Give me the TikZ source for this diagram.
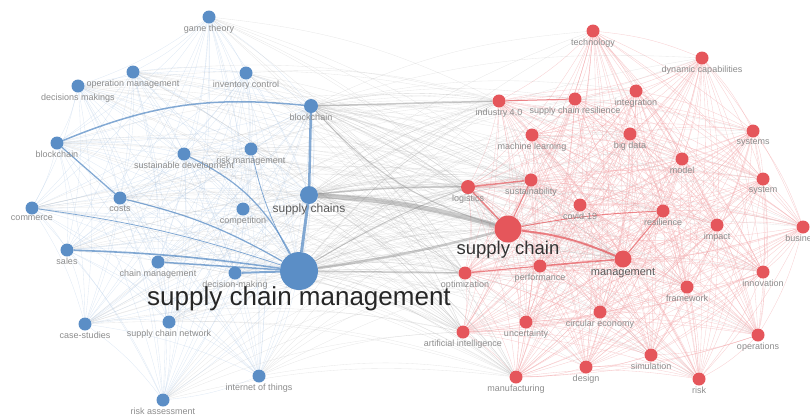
\documentclass[tikz,border=0pt]{standalone}
\usepackage{fontspec}
\setmainfont{Liberation Sans}
\usetikzlibrary{backgrounds}

\definecolor{vblue}{HTML}{5B8EC6}
\definecolor{vred}{HTML}{E5565B}
\definecolor{lblue}{HTML}{B9CFE8}
\definecolor{lred}{HTML}{F2A9AC}
\definecolor{lgray}{HTML}{B5B5B5}
\definecolor{labgray}{HTML}{8C8C8C}

% node lists of the two clusters
\def\bluelist{gt,opm,dms,ic,bct,bcl,sd,rm,cst,cmp,scs,com,sal,chm,dmk,scm,cs,scn,iot,ra}
\def\redlist{tec,dyn,ind,scr,itg,ml,bd,sys,mdl,log,sus,syst,cov,res,imp,bus,sc,mgt,opt,prf,inn,frw,ce,unc,ai,ops,sim,des,mfg,rsk}

\begin{document}
\begin{tikzpicture}[x=1pt, y=-1pt,
    bnode/.style={circle, fill=vblue, minimum size=13pt, inner sep=0pt},
    rnode/.style={circle, fill=vred, minimum size=13pt, inner sep=0pt},
    every label/.style={font=\fontsize{9}{9}\selectfont, text=labgray, inner sep=1pt},
    bmesh/.style={lblue, line width=0.35pt, opacity=0.45},
    rmesh/.style={lred, line width=0.35pt, opacity=0.55},
    gmesh/.style={lgray, line width=0.35pt, opacity=0.3},
    bstrong/.style={vblue, opacity=0.75},
    rstrong/.style={vred, opacity=0.7},
    gstrong/.style={gray, opacity=0.4}
  ]
  \useasboundingbox (0,0) rectangle (810,416);

  % blue cluster
  \node[bnode, label=below:game theory] (gt) at (209,17) {};
  \node[bnode, label=below:operation management] (opm) at (133,72) {};
  \node[bnode, label=below:decisions makings] (dms) at (78,86) {};
  \node[bnode, label=below:inventory control] (ic) at (246,73) {};
  \node[bnode, minimum size=14pt, label=below:blockchain] (bct) at (311,106) {};
  \node[bnode, label=below:blockchain] (bcl) at (57,143) {};
  \node[bnode, label=below:sustainable development] (sd) at (184,154) {};
  \node[bnode, label=below:risk management] (rm) at (251,149) {};
  \node[bnode, label=below:costs] (cst) at (120,198) {};
  \node[bnode, label=below:competition] (cmp) at (243,209) {};
  \node[bnode, minimum size=18pt,
    label={[font=\fontsize{12}{12}\selectfont, text=black!65, label distance=-2pt]below:supply chains}] (scs) at (309,195) {};
  \node[bnode, label=below:commerce] (com) at (32,208) {};
  \node[bnode, label=below:sales] (sal) at (67,250) {};
  \node[bnode, label=below:chain management] (chm) at (158,262) {};
  \node[bnode, label=below:decision-making] (dmk) at (235,273) {};
  \node[bnode, minimum size=38pt,
    label={[font=\fontsize{26}{26}\selectfont, text=black!85, label distance=-5pt]below:supply chain management}] (scm) at (299,271) {};
  \node[bnode, label=below:case-studies] (cs) at (85,324) {};
  \node[bnode, label=below:supply chain network] (scn) at (169,322) {};
  \node[bnode, label=below:internet of things] (iot) at (259,376) {};
  \node[bnode, label=below:risk assessment] (ra) at (163,400) {};

  % red cluster
  \node[rnode, label=below:technology] (tec) at (593,31) {};
  \node[rnode, label=below:dynamic capabilities] (dyn) at (702,58) {};
  \node[rnode, label=below:industry 4.0] (ind) at (499,101) {};
  \node[rnode, label=below:supply chain resilience] (scr) at (575,99) {};
  \node[rnode, label=below:integration] (itg) at (636,91) {};
  \node[rnode, label=below:machine learning] (ml) at (532,135) {};
  \node[rnode, label=below:big data] (bd) at (630,134) {};
  \node[rnode, label=below:systems] (sys) at (753,131) {};
  \node[rnode, label=below:model] (mdl) at (682,159) {};
  \node[rnode, minimum size=14pt, label=below:logistics] (log) at (468,187) {};
  \node[rnode, label=below:sustainability] (sus) at (531,180) {};
  \node[rnode, label=below:system] (syst) at (763,179) {};
  \node[rnode, label=below:covid-19] (cov) at (580,205) {};
  \node[rnode, label=below:resilience] (res) at (663,211) {};
  \node[rnode, label=below:impact] (imp) at (717,225) {};
  \node[rnode, label=below:business] (bus) at (803,227) {};
  \node[rnode, minimum size=27pt,
    label={[font=\fontsize{18.5}{18.5}\selectfont, text=black!80, label distance=-3pt]below:supply chain}] (sc) at (508,229) {};
  \node[rnode, minimum size=17pt,
    label={[font=\fontsize{11}{11}\selectfont, text=black!65, label distance=-1pt]below:management}] (mgt) at (623,259) {};
  \node[rnode, label=below:optimization] (opt) at (465,273) {};
  \node[rnode, label=below:performance] (prf) at (540,266) {};
  \node[rnode, label=below:innovation] (inn) at (763,272) {};
  \node[rnode, label=below:framework] (frw) at (687,287) {};
  \node[rnode, label=below:circular economy] (ce) at (600,312) {};
  \node[rnode, label=below:uncertainty] (unc) at (526,322) {};
  \node[rnode, label=below:artificial intelligence] (ai) at (463,332) {};
  \node[rnode, label=below:operations] (ops) at (758,335) {};
  \node[rnode, label=below:simulation] (sim) at (651,355) {};
  \node[rnode, label=below:design] (des) at (586,367) {};
  \node[rnode, label=below:manufacturing] (mfg) at (516,377) {};
  \node[rnode, label=below:risk] (rsk) at (699,379) {};

  \begin{scope}[on background layer]
    % faint links inside each cluster
    \foreach \a [count=\i] in \bluelist {
      \foreach \b [count=\j] in \bluelist {
        \ifnum\i<\j \draw[bmesh] (\a) to[bend left=8] (\b); \fi
      }
    }
    \foreach \a [count=\i] in \redlist {
      \foreach \b [count=\j] in \redlist {
        \ifnum\i<\j \draw[rmesh] (\a) to[bend left=8] (\b); \fi
      }
    }
    % faint links between the clusters
    \foreach \a in \bluelist {
      \foreach \b in {sc,mgt,log,sus,ind,opt,ai,mfg} {
        \draw[gmesh] (\a) to[bend left=10] (\b);
      }
    }
    \foreach \a in \redlist {
      \foreach \b in {scm,scs,bct} {
        \draw[gmesh] (\b) to[bend left=10] (\a);
      }
    }
    % strong links
    \draw[bstrong, line width=3pt] (scm) -- (scs);
    \draw[bstrong, line width=2.5pt] (scs) -- (bct);
    \draw[bstrong, line width=1.5pt] (bcl) to[bend left=14] (bct);
    \draw[bstrong, line width=1.2pt] (bcl) -- (cst);
    \draw[bstrong, line width=1.2pt] (cst) to[bend left=8] (scm);
    \draw[bstrong, line width=1.2pt] (sd) to[bend left=18] (scm);
    \draw[bstrong, line width=0.8pt] (rm) to[bend right=8] (scm);
    \draw[bstrong, line width=1.6pt] (sal) to[bend left=3] (scm);
    \draw[bstrong, line width=1.5pt] (chm) -- (scm);
    \draw[bstrong, line width=2pt] (dmk) -- (scm);
    \draw[bstrong, line width=0.8pt] (com) to[bend left=5] (scm);
    \draw[gstrong, line width=5pt] (scs) to[bend left=6] (sc);
    \draw[gstrong, line width=2.5pt] (scm) to[bend right=3] (sc);
    \draw[gstrong, line width=1.5pt] (bct) -- (ind);
    \draw[gstrong, line width=1.5pt] (scs) to[bend left=3] (log);
    \draw[gstrong, line width=1.5pt] (scm) -- (opt);
    \draw[gstrong, line width=1pt] (scm) to[bend left=5] (log);
    \draw[gstrong, line width=1pt] (bct) to[bend right=15] (sc);
    \draw[rstrong, line width=2pt] (sc) to[bend left=8] (mgt);
    \draw[rstrong, line width=1.5pt] (sc) -- (log);
    \draw[rstrong, line width=1pt] (sc) -- (sus);
    \draw[rstrong, line width=1.5pt] (log) -- (sus);
    \draw[rstrong, line width=1.5pt] (prf) -- (mgt);
    \draw[rstrong, line width=1.2pt] (opt) -- (prf);
    \draw[rstrong, line width=1pt] (sc) to[bend left=4] (res);
    \draw[rstrong, line width=1pt] (mgt) -- (res);
    \draw[rstrong, line width=1pt] (ind) -- (scr);
  \end{scope}
\end{tikzpicture}
\end{document}
